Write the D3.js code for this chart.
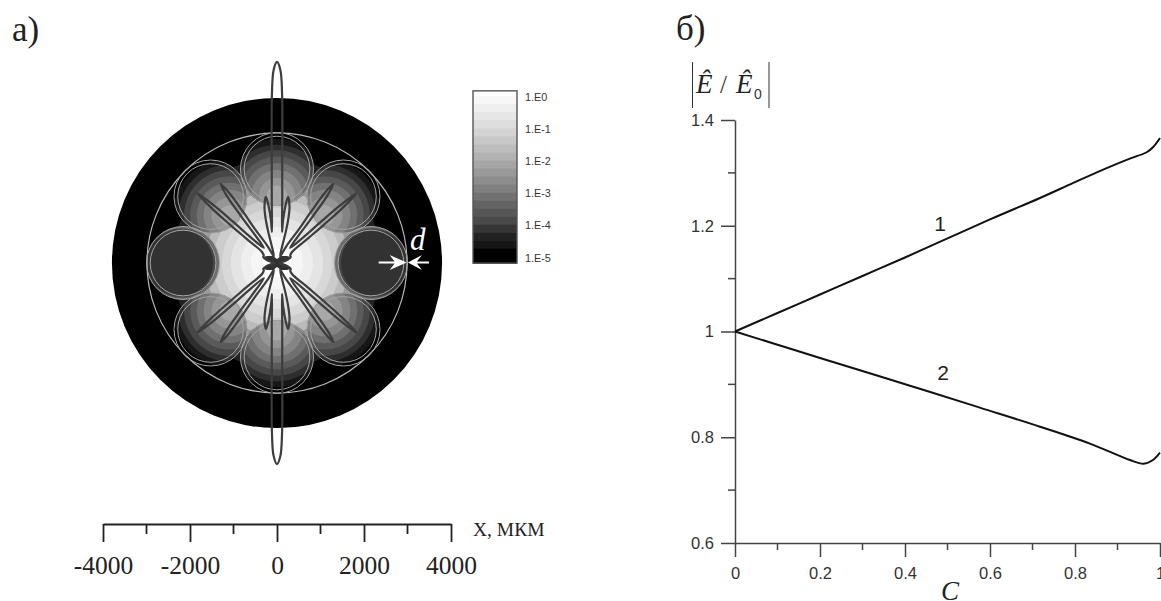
<!DOCTYPE html>
<html>
<head>
<meta charset="utf-8">
<script src="https://cdn.jsdelivr.net/npm/d3@7"></script>
<style>
  body { margin: 0; background: #fff; }
  svg { display: block; }
  .serif { font-family: "Liberation Serif", serif; }
  .sans { font-family: "Liberation Sans", sans-serif; }
</style>
</head>
<body>
<svg id="chart" width="1161" height="601"></svg>
<script>
// panel a: geometry of the section, micrometres
var fieldTicks = [-4000, -2000, 0, 2000, 4000];
var fieldMinorTicks = [-3000, -1000, 1000, 3000];
var outerRadius = 3795;
var innerRadius = 2990;
var tubeOrbit = 2160;
var tubeRadii = [840, 755];
var tubeAngles = [0, 45, 135, 180, 225, 315];
var darkTubeAngles = [90, 270];
var dWall = [2980, 3010];

// filled contour bands, outermost first
var glowRadii = [2420, 2180, 2020, 1840, 1660, 1470, 1265, 1060, 830, 600, 320];
var glowGreys = [34, 68, 102, 153, 187, 204, 216, 228, 238, 246, 255];
var tubeBandFocus = 1550;
var tubeBandRadii = [1300, 1170, 1040, 900, 750, 590, 410, 230];
var tubeBandGreys = [22, 46, 70, 90, 112, 132, 150, 168];
var darkBandRadii = [840, 800, 760];
var darkBandShift = [0, 40, 70];
var darkBandGreys = [110, 70, 51];

// polar pattern, first quadrant: degrees from vertical and radius in micrometres
var lobeAngles = [0, 1, 1.7, 3, 5, 9.2, 8.1, 8.3, 9.5, 12.6, 14.3, 15.8, 17, 25, 29, 33, 33.5, 34.3, 35.5, 36.7, 37.5, 38, 41, 46, 46.8, 47.6, 48.8, 50, 50.8, 51.5, 54, 62, 66, 75, 90];
var lobeRadii = [4623, 4439, 3910, 2300, 1380, 722, 975, 1279, 1539, 1320, 1067, 718, 432, 170, 440, 920, 1380, 1955, 2231, 1955, 1380, 920, 460, 920, 1380, 1955, 2438, 1955, 1380, 920, 420, 345, 345, 207, 58];
// solid dark cross at the middle of the pattern
var hubAngles = [0, 30, 55, 66, 75, 90];
var hubRadii = [92, 184, 276, 345, 207, 69];

// colour bar
var barTicks = [1, 1e-1, 1e-2, 1e-3, 1e-4, 1e-5];
var barTickLabels = ["1.E0", "1.E-1", "1.E-2", "1.E-3", "1.E-4", "1.E-5"];
var barTickGreys = [255, 222, 178, 128, 72, 0];
var barExponents = [0.16, 0, -0.25, -0.5, -0.75, -1, -1.25, -1.5, -1.75, -2, -2.25, -2.5, -2.75, -3, -3.25, -3.5, -3.75, -4, -4.25, -4.5, -4.75, -5, -5.19];

// panel b: curves
var curve1C = [0, 0.1, 0.2, 0.3, 0.4, 0.5, 0.6, 0.7176, 0.796, 0.8745, 0.929, 0.9686, 0.984, 1];
var curve1E = [1, 1.035, 1.07, 1.105, 1.14, 1.176, 1.212, 1.2525, 1.281, 1.309, 1.327, 1.339, 1.349, 1.366];
var curve2C = [0, 0.1, 0.2, 0.357, 0.45, 0.576, 0.7176, 0.835, 0.929, 0.9616, 0.9835, 1];
var curve2E = [1, 0.975, 0.95, 0.911, 0.888, 0.856, 0.82, 0.788, 0.757, 0.75, 0.757, 0.771];
var cTicks = [0, 0.2, 0.4, 0.6, 0.8, 1];
var cMinorTicks = [0.1, 0.3, 0.5, 0.7, 0.9];
var eTicks = [0.6, 0.8, 1, 1.2, 1.4];
var eMinorTicks = [0.7, 0.9, 1.1, 1.3];

var svg = d3.select("#chart");

var cx = 277, cy = 263;
var xField = d3.scaleLinear().domain([-4000, 4000]).range([103, 451]);
var rField = d3.scaleLinear().domain([0, 4000]).range([0, 174]);

function grey(v) { return d3.rgb(v, v, v).toString(); }
function spoke(angle, dist) {
  var a = angle * Math.PI / 180;
  return [cx + rField(dist) * Math.sin(a), cy - rField(dist) * Math.cos(a)];
}

var defs = svg.append("defs");
defs.append("filter").attr("id", "soft")
  .append("feGaussianBlur").attr("stdDeviation", 0.7);
defs.append("filter").attr("id", "softer")
  .append("feGaussianBlur").attr("stdDeviation", 0.35);

// panel titles
svg.append("text").attr("class", "serif").attr("x", 12).attr("y", 41)
  .attr("font-size", 35).attr("fill", "#222").text("а)");
svg.append("text").attr("class", "serif").attr("x", 676).attr("y", 40)
  .attr("font-size", 35).attr("fill", "#222").text("б)");

// field
var field = svg.append("g").attr("filter", "url(#soft)");
field.append("circle").attr("cx", cx).attr("cy", cy).attr("r", rField(outerRadius)).attr("fill", "#000");

field.selectAll("circle.glow").data(glowRadii).enter().append("circle")
  .attr("class", "glow")
  .attr("cx", cx).attr("cy", cy)
  .attr("r", function(d) { return rField(d); })
  .attr("fill", function(d, i) { return grey(glowGreys[i]); });

// bands inside the lit tubes
tubeAngles.forEach(function(angle, k) {
  var c = spoke(angle, tubeOrbit);
  var f = spoke(angle, tubeBandFocus);
  var id = "tube" + k;
  defs.append("clipPath").attr("id", id).append("circle")
    .attr("cx", c[0]).attr("cy", c[1]).attr("r", rField(tubeRadii[0]));
  var g = field.append("g").attr("clip-path", "url(#" + id + ")");
  g.append("circle").attr("cx", c[0]).attr("cy", c[1]).attr("r", rField(tubeRadii[0])).attr("fill", "#000");
  g.selectAll("circle.band").data(tubeBandRadii).enter().append("circle")
    .attr("class", "band")
    .attr("cx", f[0]).attr("cy", f[1])
    .attr("r", function(d) { return rField(d); })
    .attr("fill", function(d, i) { return grey(tubeBandGreys[i]); });
});

// the two dark tubes on the x axis
darkTubeAngles.forEach(function(angle, k) {
  var id = "dark" + k;
  var c = spoke(angle, tubeOrbit);
  defs.append("clipPath").attr("id", id).append("circle")
    .attr("cx", c[0]).attr("cy", c[1]).attr("r", rField(tubeRadii[0]));
  var g = field.append("g").attr("clip-path", "url(#" + id + ")");
  g.selectAll("circle").data(darkBandRadii).enter().append("circle")
    .attr("cx", function(d, i) { return spoke(angle, tubeOrbit + darkBandShift[i])[0]; })
    .attr("cy", function(d, i) { return spoke(angle, tubeOrbit + darkBandShift[i])[1]; })
    .attr("r", function(d) { return rField(d); })
    .attr("fill", function(d, i) { return grey(darkBandGreys[i]); });
});

// walls
var walls = svg.append("g").attr("filter", "url(#softer)").attr("fill", "none");
walls.append("circle").attr("cx", cx).attr("cy", cy).attr("r", rField(innerRadius))
  .attr("stroke", "#b8b8b8").attr("stroke-width", 1.2);
tubeAngles.concat(darkTubeAngles).forEach(function(angle) {
  var c = spoke(angle, tubeOrbit);
  walls.selectAll(null).data(tubeRadii).enter().append("circle")
    .attr("cx", c[0]).attr("cy", c[1])
    .attr("r", function(d) { return rField(d); })
    .attr("stroke", "#a4a4a4").attr("stroke-width", 1);
});

// polar pattern, mirrored into the other quadrants
function mirror(angles, radii) {
  var q = angles.map(function(a, i) { return [a, radii[i]]; });
  var upper = q.concat(q.slice(0, -1).reverse().map(function(d) { return [180 - d[0], d[1]]; }));
  return upper.concat(upper.slice(1, -1).map(function(d) { return [360 - d[0], d[1]]; }).reverse());
}
var radial = d3.lineRadial()
  .angle(function(d) { return d[0] * Math.PI / 180; })
  .radius(function(d) { return rField(d[1]); });
svg.append("path")
  .attr("transform", "translate(" + cx + "," + cy + ")")
  .attr("d", radial.curve(d3.curveLinearClosed)(mirror(hubAngles, hubRadii)))
  .attr("fill", "#333").attr("stroke", "none")
  .attr("filter", "url(#softer)");
svg.append("path")
  .attr("transform", "translate(" + cx + "," + cy + ")")
  .attr("d", radial.curve(d3.curveCatmullRomClosed.alpha(0.5))(mirror(lobeAngles, lobeRadii)))
  .attr("fill", "none").attr("stroke", "#3c3c3c").attr("stroke-width", 2.2)
  .attr("stroke-linejoin", "round")
  .attr("filter", "url(#softer)");

// d marker
var dY = 262.5;
var dMark = svg.append("g").attr("fill", "#fff").attr("stroke", "none");
var tipL = xField(dWall[0]), tipR = xField(dWall[1]);
dMark.append("path").attr("d", "M" + (tipL - 28) + "," + (dY - 1) + "H" + (tipL - 12) + "L" + (tipL - 17) + "," + (dY - 7.5)
  + "L" + tipL + "," + dY + "L" + (tipL - 17) + "," + (dY + 7.5) + "L" + (tipL - 12) + "," + (dY + 1) + "H" + (tipL - 28) + "Z");
dMark.append("path").attr("d", "M" + (tipR + 21) + "," + (dY - 1) + "H" + (tipR + 9) + "L" + (tipR + 14) + "," + (dY - 7.5)
  + "L" + tipR + "," + dY + "L" + (tipR + 14) + "," + (dY + 7.5) + "L" + (tipR + 9) + "," + (dY + 1) + "H" + (tipR + 21) + "Z");
svg.append("text").attr("class", "serif").attr("x", 410).attr("y", 250)
  .attr("font-size", 31).attr("font-style", "italic").attr("fill", "#fff").text("d");

// colour bar
var barY = d3.scaleLog().domain([1, 1e-5]).range([96, 257]);
var barGrey = d3.scaleLinear().domain(barTicks.map(function(d, i) { return -i; })).range(barTickGreys).clamp(true);
var barX = 473, barW = 44;
var bar = svg.append("g").attr("filter", "url(#soft)");
barExponents.slice(1).forEach(function(e, i) {
  var top = barY(Math.pow(10, barExponents[i]));
  var bottom = barY(Math.pow(10, e));
  bar.append("rect").attr("x", barX).attr("width", barW)
    .attr("y", top).attr("height", bottom - top + 0.5)
    .attr("fill", grey(Math.round(barGrey(e))));
});
svg.append("rect").attr("x", barX).attr("width", barW)
  .attr("y", barY(Math.pow(10, barExponents[0])))
  .attr("height", barY(Math.pow(10, barExponents[barExponents.length - 1])) - barY(Math.pow(10, barExponents[0])))
  .attr("fill", "none").attr("stroke", "#555").attr("stroke-width", 1.4);
svg.selectAll("text.bartick").data(barTicks).enter().append("text")
  .attr("class", "bartick sans")
  .attr("x", 525)
  .attr("y", function(d) { return barY(d) + 4.5; })
  .attr("font-size", 10.8).attr("fill", "#333")
  .text(function(d, i) { return barTickLabels[i]; });

// field axis
var axisY = 524;
var fieldAxis = svg.append("g").attr("transform", "translate(0," + axisY + ")")
  .call(d3.axisBottom(xField).tickValues(fieldTicks).tickSizeInner(18).tickSizeOuter(0).tickFormat(d3.format("d")));
fieldAxis.selectAll("path, line").attr("stroke", "#222").attr("stroke-width", 1.8);
fieldAxis.selectAll("text").attr("class", "serif").attr("font-size", 25.5).attr("fill", "#222")
  .attr("y", 50).attr("dy", 0).text(function(d) { return d; });
fieldAxis.selectAll("line.minor").data(fieldMinorTicks).enter().append("line")
  .attr("class", "minor")
  .attr("x1", function(d) { return xField(d); }).attr("x2", function(d) { return xField(d); })
  .attr("y1", 0).attr("y2", 10)
  .attr("stroke", "#222").attr("stroke-width", 1.8);
svg.append("text").attr("class", "serif").attr("x", 473).attr("y", 536)
  .attr("font-size", 19.5).attr("fill", "#222").text("X, МКМ");

// panel b
var xC = d3.scaleLinear().domain([0, 1]).range([735, 1160]);
var yE = d3.scaleLinear().domain([0.6, 1.4]).range([543, 120]);

function styleAxis(g) {
  g.selectAll("path, line").attr("stroke", "#444").attr("stroke-width", 1.5);
  g.selectAll("text").attr("class", "sans").attr("font-size", 16.5).attr("fill", "#333");
}

var cAxis = svg.append("g").attr("transform", "translate(0," + yE(0.6) + ")")
  .call(d3.axisBottom(xC).tickValues(cTicks).tickSizeInner(14).tickSizeOuter(0).tickPadding(10).tickFormat(function(d) { return d; }));
styleAxis(cAxis);
cAxis.selectAll("text").attr("y", 36).attr("dy", 0);
cAxis.selectAll("line.minor").data(cMinorTicks).enter().append("line")
  .attr("class", "minor")
  .attr("x1", function(d) { return xC(d); }).attr("x2", function(d) { return xC(d); })
  .attr("y1", 0).attr("y2", 7).attr("stroke", "#444").attr("stroke-width", 1.5);

var eAxis = svg.append("g").attr("transform", "translate(" + xC(0) + ",0)")
  .call(d3.axisLeft(yE).tickValues(eTicks).tickSizeInner(14).tickSizeOuter(0).tickPadding(7).tickFormat(function(d) { return d; }));
styleAxis(eAxis);
eAxis.selectAll("line.minor").data(eMinorTicks).enter().append("line")
  .attr("class", "minor")
  .attr("y1", function(d) { return yE(d); }).attr("y2", function(d) { return yE(d); })
  .attr("x1", 0).attr("x2", -7).attr("stroke", "#444").attr("stroke-width", 1.5);

var line = d3.line()
  .x(function(d) { return xC(d[0]); })
  .y(function(d) { return yE(d[1]); })
  .curve(d3.curveCatmullRom.alpha(0.5));
[[curve1C, curve1E], [curve2C, curve2E]].forEach(function(c) {
  svg.append("path")
    .attr("d", line(c[0].map(function(v, i) { return [v, c[1][i]]; })))
    .attr("fill", "none").attr("stroke", "#111").attr("stroke-width", 2);
});

svg.append("text").attr("class", "sans").attr("x", 940).attr("y", 231).attr("text-anchor", "middle")
  .attr("font-size", 21).attr("fill", "#222").text("1");
svg.append("text").attr("class", "sans").attr("x", 943).attr("y", 380).attr("text-anchor", "middle")
  .attr("font-size", 21).attr("fill", "#222").text("2");

// axis titles
svg.append("text").attr("class", "serif").attr("x", 950).attr("y", 600).attr("text-anchor", "middle")
  .attr("font-size", 27).attr("font-style", "italic").attr("fill", "#222").text("C");

var yLabel = svg.append("g").attr("fill", "#222");
yLabel.selectAll("line").data([692.5, 769]).enter().append("line")
  .attr("x1", function(d) { return d; }).attr("x2", function(d) { return d; })
  .attr("y1", 62).attr("y2", 108)
  .attr("stroke", "#333").attr("stroke-width", 1);
yLabel.append("text").attr("class", "serif").attr("x", 696).attr("y", 93)
  .attr("font-size", 27).attr("font-style", "italic").text("Ê");
yLabel.append("text").attr("class", "serif").attr("x", 720).attr("y", 93)
  .attr("font-size", 25).attr("fill", "#333").text("/");
yLabel.append("text").attr("class", "serif").attr("x", 736).attr("y", 93)
  .attr("font-size", 27).attr("font-style", "italic").text("Ê");
yLabel.append("text").attr("class", "sans").attr("x", 754).attr("y", 99)
  .attr("font-size", 14).attr("fill", "#333").text("0");
</script>
</body>
</html>
